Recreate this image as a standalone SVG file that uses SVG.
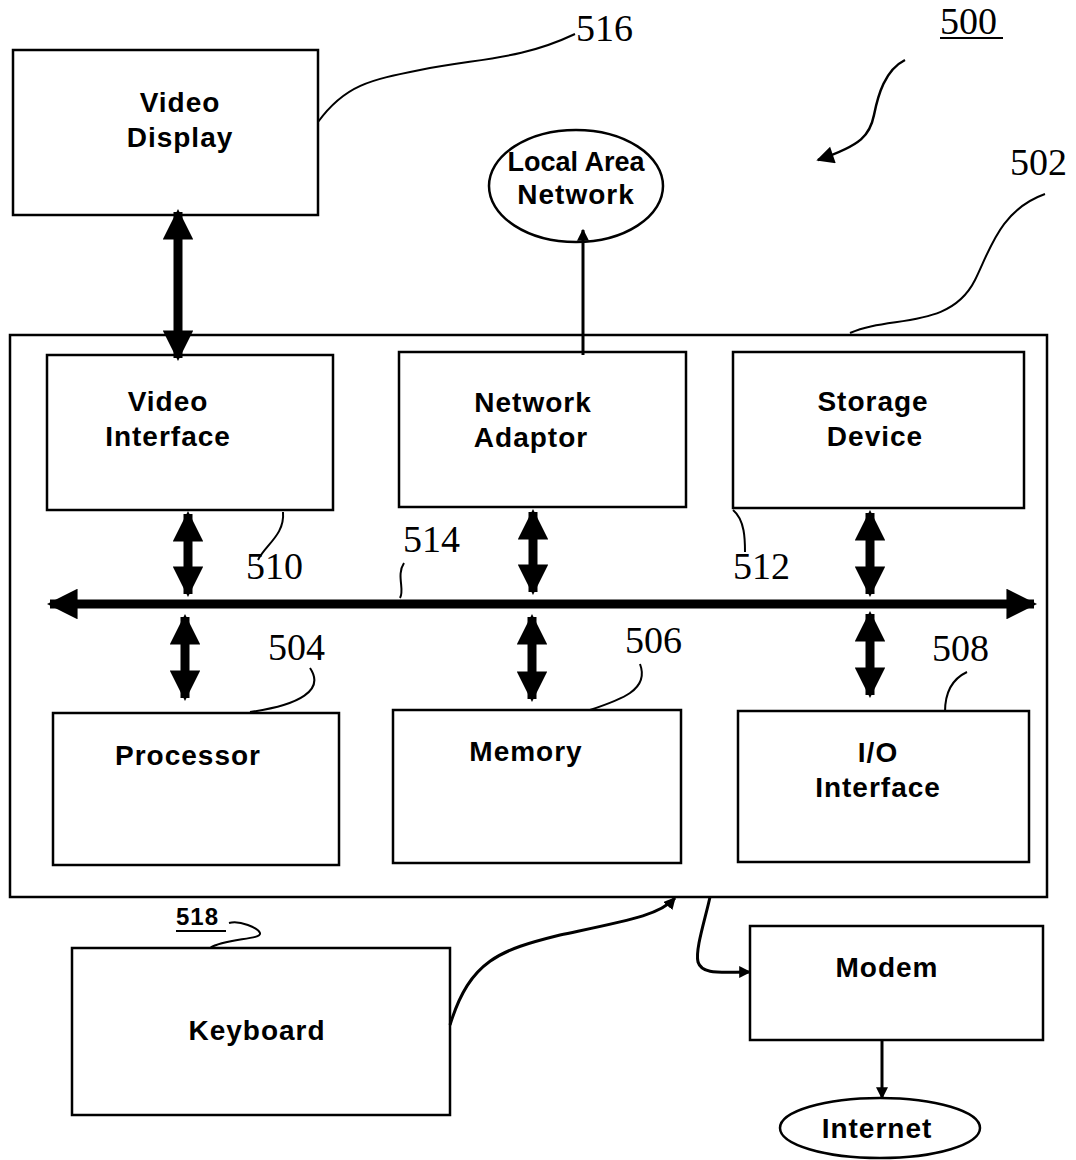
<svg xmlns="http://www.w3.org/2000/svg" width="1076" height="1160" viewBox="0 0 1076 1160">
<style>
.box{fill:#fff;stroke:#000;stroke-width:2.5}
.t{font-family:"Liberation Sans",Arial,sans-serif;font-weight:bold;font-size:28px;letter-spacing:1px;text-anchor:middle;fill:#000}
.n{font-family:"Liberation Serif","Times New Roman",serif;font-size:38px;fill:#000}
.lead{fill:none;stroke:#000;stroke-width:2}
.thick{stroke:#000;stroke-width:9;fill:none}
.thin{stroke:#000;stroke-width:3;fill:none}
</style>
<defs>
<marker id="big" viewBox="0 0 10 10" refX="9" refY="5" markerWidth="3.4" markerHeight="3.4" orient="auto-start-reverse" markerUnits="strokeWidth">
<path d="M0,0 L10,5 L0,10 Z" fill="#000"/>
</marker>
<marker id="sm" viewBox="0 0 10 10" refX="9" refY="5" markerWidth="4" markerHeight="4" orient="auto-start-reverse" markerUnits="strokeWidth">
<path d="M0,0 L10,5 L0,10 Z" fill="#000"/>
</marker>
<marker id="arr500" viewBox="0 0 10 10" refX="9" refY="5" markerWidth="9" markerHeight="7" orient="auto" markerUnits="strokeWidth">
<path d="M0,0 L10,5 L0,10 Z" fill="#000"/>
</marker>
</defs>

<g id="system-502"><rect class="box" x="10" y="335" width="1037" height="562"/></g>

<g id="video-display"><rect class="box" x="13" y="50" width="305" height="165"/><text class="t" x="180" y="112">Video</text><text class="t" x="180" y="147">Display</text></g>
<g id="lan"><ellipse fill="#fff" stroke="#000" stroke-width="2.5" cx="576" cy="186" rx="87" ry="56"/><text class="t" x="576" y="171" style="letter-spacing:0;font-size:27px">Local Area</text><text class="t" x="576" y="204">Network</text></g>
<g id="video-interface"><rect class="box" x="47" y="355" width="286" height="155"/><text class="t" x="168" y="411">Video</text><text class="t" x="168" y="446">Interface</text></g>
<g id="network-adaptor"><rect class="box" x="399" y="352" width="287" height="155"/><text class="t" x="533" y="412">Network</text><text class="t" x="531" y="447">Adaptor</text></g>
<g id="storage-device"><rect class="box" x="733" y="352" width="291" height="156"/><text class="t" x="873" y="411">Storage</text><text class="t" x="875" y="446">Device</text></g>
<g id="processor"><rect class="box" x="53" y="713" width="286" height="152"/><text class="t" x="188" y="765">Processor</text></g>
<g id="memory"><rect class="box" x="393" y="710" width="288" height="153"/><text class="t" x="526" y="761">Memory</text></g>
<g id="io-interface"><rect class="box" x="738" y="711" width="291" height="151"/><text class="t" x="878" y="762">I/O</text><text class="t" x="878" y="797">Interface</text></g>
<g id="keyboard"><rect class="box" x="72" y="948" width="378" height="167"/><text class="t" x="257" y="1040">Keyboard</text></g>
<g id="modem"><rect class="box" x="750" y="926" width="293" height="114"/><text class="t" x="887" y="977">Modem</text></g>
<g id="internet"><ellipse fill="#fff" stroke="#000" stroke-width="2.5" cx="880" cy="1128" rx="100" ry="30"/><text class="t" x="877" y="1138">Internet</text></g>

<g id="connectors">
<line class="thick" x1="178" y1="212" x2="178" y2="358" marker-start="url(#big)" marker-end="url(#big)"/>
<line class="thin" x1="583" y1="230" x2="583" y2="355" marker-start="url(#sm)"/>
<line class="thick" x1="50" y1="604" x2="1034" y2="604" stroke-width="10" marker-start="url(#big)" marker-end="url(#big)"/>
<line class="thick" x1="188" y1="514" x2="188" y2="594" marker-start="url(#big)" marker-end="url(#big)"/>
<line class="thick" x1="533" y1="512" x2="533" y2="592" marker-start="url(#big)" marker-end="url(#big)"/>
<line class="thick" x1="870" y1="513" x2="870" y2="594" marker-start="url(#big)" marker-end="url(#big)"/>
<line class="thick" x1="185" y1="617" x2="185" y2="698" marker-start="url(#big)" marker-end="url(#big)"/>
<line class="thick" x1="532" y1="617" x2="532" y2="699" marker-start="url(#big)" marker-end="url(#big)"/>
<line class="thick" x1="870" y1="614" x2="870" y2="695" marker-start="url(#big)" marker-end="url(#big)"/>
<path class="thin" d="M450,1025 C470,960 500,950 560,935 C630,920 660,915 675,898" marker-end="url(#sm)"/>
<path class="thin" d="M710,897 C705,920 695,950 698,962 C702,975 720,972 750,972" marker-end="url(#sm)"/>
<line class="thin" x1="882" y1="1040" x2="882" y2="1098" marker-end="url(#sm)"/>
<path d="M905,60 C885,70 878,95 874,115 C870,135 862,145 818,160" fill="none" stroke="#000" stroke-width="2.5" marker-end="url(#arr500)"/>
</g>

<g id="labels">
<text class="n" x="576" y="41">516</text>
<path class="lead" d="M318,122 C345,85 370,80 420,70 C480,58 520,60 575,34"/>
<text class="n" x="940" y="34">500</text>
<line x1="940" y1="38" x2="1003" y2="38" stroke="#000" stroke-width="2"/>
<text class="n" x="1010" y="175">502</text>
<path class="lead" d="M1045,194 C1000,210 990,250 975,280 C950,330 890,315 850,333"/>
<text class="n" x="246" y="579">510</text>
<path class="lead" d="M283,512 C285,535 265,545 258,560"/>
<text class="n" x="403" y="552">514</text>
<path class="lead" d="M404,563 C396,575 405,590 400,598"/>
<text class="n" x="733" y="579">512</text>
<path class="lead" d="M733,510 C745,520 745,540 745,552"/>
<text class="n" x="268" y="660">504</text>
<path class="lead" d="M310,668 C325,690 300,705 250,712"/>
<text class="n" x="625" y="653">506</text>
<path class="lead" d="M640,664 C650,690 620,700 590,710"/>
<text class="n" x="932" y="661">508</text>
<path class="lead" d="M967,672 C950,680 945,695 945,712"/>
<text x="176" y="925" style="font-family:'Liberation Sans',Arial,sans-serif;font-weight:bold;font-size:24px;letter-spacing:1px;fill:#000">518</text>
<line x1="176" y1="931" x2="226" y2="931" stroke="#000" stroke-width="2"/>
<path class="lead" d="M229,923 C240,920 258,928 260,933 C262,940 225,938 210,948"/>
</g>
</svg>
